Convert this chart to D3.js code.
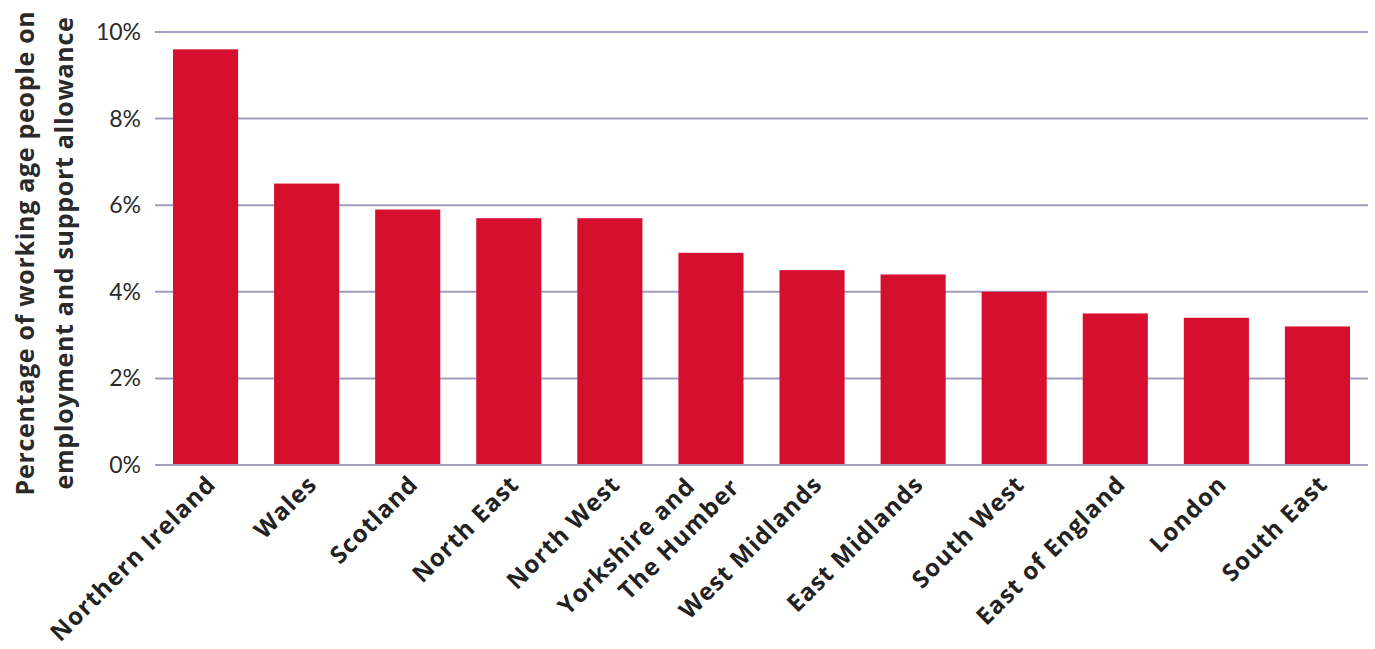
<!DOCTYPE html>
<html><head><meta charset="utf-8">
<script src="https://cdn.jsdelivr.net/npm/d3@7"></script>
<style>body{margin:0;background:#fff;}</style>
</head><body>
<svg id="c" width="1375" height="649"></svg>
<script>
const categories = ["Northern Ireland","Wales","Scotland","North East","North West","Yorkshire and|The Humber","West Midlands","East Midlands","South West","East of England","London","South East"];
const values = [9.6, 6.5, 5.9, 5.7, 5.7, 4.9, 4.5, 4.4, 4.0, 3.5, 3.4, 3.2];
const yTicks = [0, 2, 4, 6, 8, 10];
const yTitle = ["Percentage of working age people on", "employment and support allowance"];

const svg = d3.select("#c");
const x = d3.scaleBand().domain(categories).range([155, 1368]).paddingInner(0.356).paddingOuter(0.178);
const y = d3.scaleLinear().domain([0, 10]).range([465, 32]);

svg.append("g").selectAll("line").data(yTicks).join("line")
  .attr("x1", 155).attr("x2", 1368)
  .attr("y1", d => y(d)).attr("y2", d => y(d))
  .attr("stroke", "#a19dbf").attr("stroke-width", 2);

svg.append("g").selectAll("text").data(yTicks).join("text")
  .attr("x", 141).attr("y", d => y(d)).attr("dy", "0.35em")
  .attr("text-anchor", "end").style("font-family", "Lato, sans-serif").style("font-size", "23px").attr("fill", "#2a2a2a")
  .text(d => d + "%");

svg.append("g").selectAll("rect").data(values).join("rect")
  .attr("x", (d, i) => x(categories[i])).attr("width", x.bandwidth())
  .attr("y", d => y(d)).attr("height", d => y(0) - y(d))
  .attr("fill", "#d50f2d");

svg.append("line").attr("x1", 155).attr("x2", 1368).attr("y1", y(0)).attr("y2", y(0))
  .attr("stroke", "#a19dbf").attr("stroke-width", 2);

const xl = svg.append("g").selectAll("text").data(categories).join("text")
  .attr("transform", d => `translate(${x(d) + x.bandwidth() / 2 - 1},${473}) rotate(-45)`)
  .attr("text-anchor", "end")
  .style("font-family", "'Open Sans', sans-serif").style("font-size", "24px").style("font-weight", "bold")
  .style("letter-spacing", "1.1px")
  .attr("fill", "#222");
xl.each(function(d) {
  const parts = d.split("|");
  const t = d3.select(this);
  if (parts.length === 1) {
    t.append("tspan").attr("x", 0).attr("dy", "18px").text(parts[0]);
  } else {
    t.append("tspan").attr("x", -20).attr("dy", "1px").text(parts[0]);
    t.append("tspan").attr("x", 11).attr("dy", "32px").text(parts[1]);
  }
});

const yt = svg.append("text").attr("transform", "translate(0,253) rotate(-90)")
  .attr("text-anchor", "middle")
  .style("font-family", "'Open Sans', sans-serif").style("font-size", "25px").style("font-weight", "bold")
  .style("letter-spacing", "0.7px")
  .attr("fill", "#2a2a2a");
yt.append("tspan").attr("x", 0).attr("y", 34).text(yTitle[0]);
yt.append("tspan").attr("x", 0).attr("y", 73).text(yTitle[1]);
</script>
</body></html>
